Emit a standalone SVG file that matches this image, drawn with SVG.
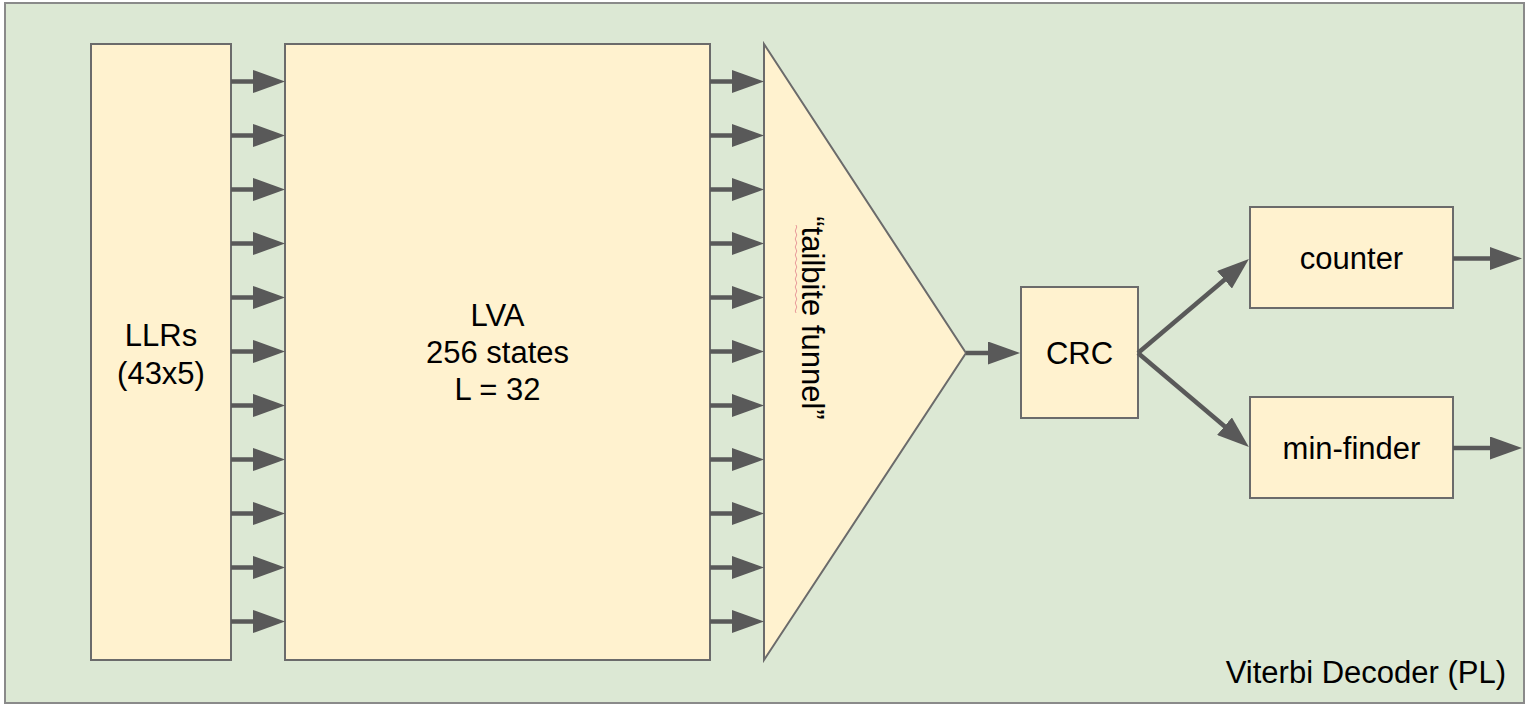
<svg xmlns="http://www.w3.org/2000/svg" width="1528" height="708" viewBox="0 0 1528 708">
  <style>
    .box { fill: #fff2cf; stroke: #6b6b6b; stroke-width: 2; }
    .lbl { font-family: "Liberation Sans", Arial, sans-serif; font-size: 31px; fill: #000; text-anchor: middle; }
    .conn { stroke: #595959; stroke-width: 4.5; fill: none; marker-end: url(#ah); }
  </style>
  <defs>
    <marker id="ah" markerUnits="userSpaceOnUse" markerWidth="32" markerHeight="23" refX="2" refY="11.5" orient="auto">
      <path d="M0,0 L32,11.5 L0,23 z" fill="#595959"/>
    </marker>
  </defs>
  <rect width="1528" height="708" fill="#ffffff"/>
  <g id="container">
    <rect x="5" y="3" width="1519" height="700" fill="#dce8d4" stroke="#8a8a8a" stroke-width="2"/>
    <text class="lbl" x="1506" y="683" style="text-anchor:end">Viterbi Decoder (PL)</text>
  </g>
  <g id="llrs">
    <rect class="box" x="91" y="44" width="140" height="616"/>
    <text class="lbl" x="161" y="346">LLRs</text>
    <text class="lbl" x="161" y="384">(43x5)</text>
  </g>
  <g id="lva">
    <rect class="box" x="285" y="44" width="425" height="616"/>
    <text class="lbl" x="497.5" y="326">LVA</text>
    <text class="lbl" x="497.5" y="363">256 states</text>
    <text class="lbl" x="497.5" y="400">L = 32</text>
  </g>
  <g id="funnel">
    <polygon class="box" points="764,44 966,353 764,660"/>
    <path d="M796,225 q1.5,2 0,4 q-1.5,2 0,4 q1.5,2 0,4 q-1.5,2 0,4 q1.5,2 0,4 q-1.5,2 0,4 q1.5,2 0,4 q-1.5,2 0,4 q1.5,2 0,4 q-1.5,2 0,4 q1.5,2 0,4 q-1.5,2 0,4 q1.5,2 0,4 q-1.5,2 0,4 q1.5,2 0,4 q-1.5,2 0,4 q1.5,2 0,4 q-1.5,2 0,4 q1.5,2 0,4 q-1.5,2 0,4 q1.5,2 0,4 q-1.5,2 0,4" fill="none" stroke="#e89a9a" stroke-width="1"/>
    <text class="lbl" transform="translate(802,318) rotate(90)">“tailbite funnel”</text>
  </g>
  <g id="crc">
    <rect class="box" x="1021" y="287" width="117" height="131"/>
    <text class="lbl" x="1079.5" y="364">CRC</text>
  </g>
  <g id="counter">
    <rect class="box" x="1250" y="207" width="203" height="101"/>
    <text class="lbl" x="1351.5" y="269">counter</text>
  </g>
  <g id="minfinder">
    <rect class="box" x="1250" y="397" width="203" height="101"/>
    <text class="lbl" x="1351.5" y="459">min-finder</text>
  </g>
  <g id="connectors">
    <line class="conn" x1="231" y1="81.5" x2="255" y2="81.5"/>
    <line class="conn" x1="231" y1="135.5" x2="255" y2="135.5"/>
    <line class="conn" x1="231" y1="189.5" x2="255" y2="189.5"/>
    <line class="conn" x1="231" y1="243.5" x2="255" y2="243.5"/>
    <line class="conn" x1="231" y1="297.5" x2="255" y2="297.5"/>
    <line class="conn" x1="231" y1="351.5" x2="255" y2="351.5"/>
    <line class="conn" x1="231" y1="405.5" x2="255" y2="405.5"/>
    <line class="conn" x1="231" y1="459.5" x2="255" y2="459.5"/>
    <line class="conn" x1="231" y1="513.5" x2="255" y2="513.5"/>
    <line class="conn" x1="231" y1="567.5" x2="255" y2="567.5"/>
    <line class="conn" x1="231" y1="621.5" x2="255" y2="621.5"/>
    <line class="conn" x1="710" y1="81.5" x2="734" y2="81.5"/>
    <line class="conn" x1="710" y1="135.5" x2="734" y2="135.5"/>
    <line class="conn" x1="710" y1="189.5" x2="734" y2="189.5"/>
    <line class="conn" x1="710" y1="243.5" x2="734" y2="243.5"/>
    <line class="conn" x1="710" y1="297.5" x2="734" y2="297.5"/>
    <line class="conn" x1="710" y1="351.5" x2="734" y2="351.5"/>
    <line class="conn" x1="710" y1="405.5" x2="734" y2="405.5"/>
    <line class="conn" x1="710" y1="459.5" x2="734" y2="459.5"/>
    <line class="conn" x1="710" y1="513.5" x2="734" y2="513.5"/>
    <line class="conn" x1="710" y1="567.5" x2="734" y2="567.5"/>
    <line class="conn" x1="710" y1="621.5" x2="734" y2="621.5"/>
    <line class="conn" x1="966" y1="353" x2="990" y2="353"/>
    <line class="conn" x1="1138" y1="353" x2="1226" y2="278.5"/>
    <line class="conn" x1="1138" y1="353" x2="1226" y2="427.5"/>
    <line class="conn" x1="1453" y1="258.5" x2="1492" y2="258.5"/>
    <line class="conn" x1="1453" y1="448" x2="1492" y2="448"/>
  </g>
</svg>
